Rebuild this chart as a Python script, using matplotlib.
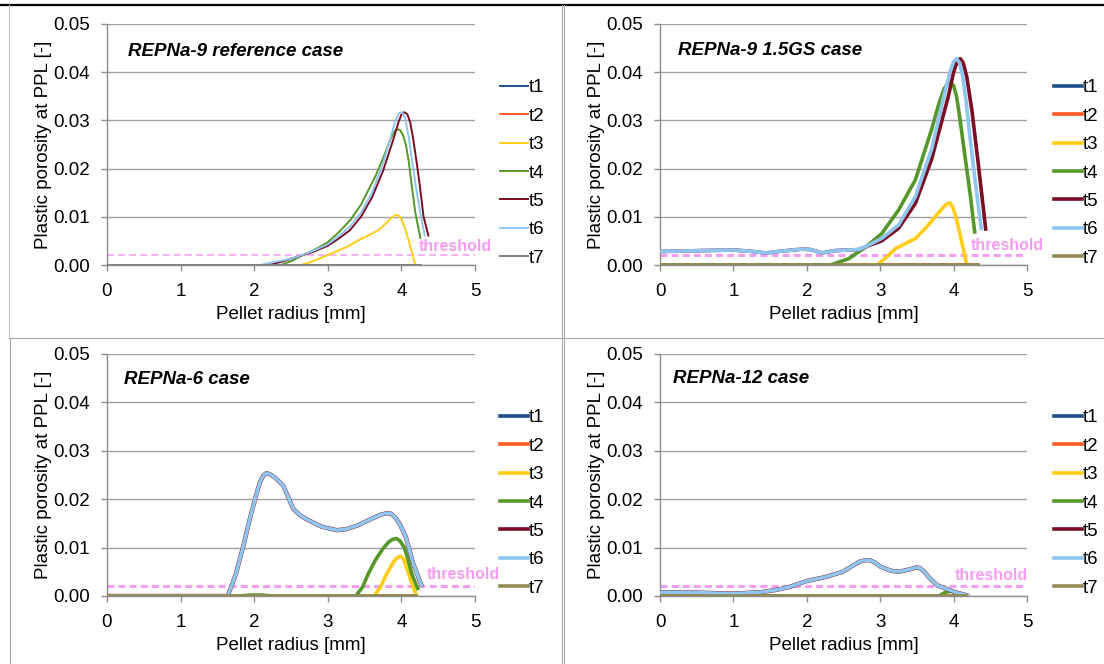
import matplotlib
matplotlib.use("Agg")
import matplotlib.pyplot as plt
from matplotlib.lines import Line2D

plt.rcParams['font.family'] = ['Liberation Sans', 'DejaVu Sans']
plt.rcParams['lines.scale_dashes'] = False

# ---------------- data ----------------
series_names = ["t1", "t2", "t3", "t4", "t5", "t6", "t7"]
x_ticks = [0, 1, 2, 3, 4, 5]
y_ticks = [0.00, 0.01, 0.02, 0.03, 0.04, 0.05]
threshold = 0.002
titles = ["REPNa-9 reference case", "REPNa-9 1.5GS case", "REPNa-6 case", "REPNa-12 case"]

# REPNa-9 reference case
ref_zero_x = [0, 4.28]
ref_zero_y = [0, 0]
ref_t3_x = [0, 2.63, 2.75, 2.90, 3.08, 3.25, 3.44, 3.60, 3.71, 3.80, 3.86, 3.91, 3.95, 3.99, 4.04, 4.10, 4.19]
ref_t3_y = [0, 0, 0.0005, 0.00145, 0.0026, 0.0037, 0.0053, 0.0065, 0.0075, 0.0088, 0.0097, 0.0103, 0.0104, 0.0098, 0.0080, 0.0050, 0.0]
ref_t4_x = [0, 2.36, 2.5, 2.63, 2.8, 2.99, 3.15, 3.31, 3.45, 3.53, 3.65, 3.76, 3.85, 3.90, 3.94, 3.98, 4.02, 4.06, 4.10, 4.14, 4.19, 4.26]
ref_t4_y = [0, 0, 0.0008, 0.0018, 0.003, 0.0046, 0.0068, 0.0094, 0.0125, 0.0149, 0.0185, 0.0225, 0.0260, 0.0276, 0.0282, 0.0280, 0.0270, 0.0250, 0.0215, 0.0165, 0.0108, 0.0054]
ref_t5_x = [0, 2.2, 2.4, 2.6, 2.8, 3.0, 3.15, 3.3, 3.45, 3.6, 3.75, 3.9, 3.96, 4.00, 4.04, 4.08, 4.12, 4.16, 4.21, 4.25, 4.30, 4.37]
ref_t5_y = [0, 0, 0.0008, 0.0018, 0.0027, 0.0040, 0.0055, 0.0072, 0.0100, 0.0140, 0.0195, 0.0265, 0.0296, 0.0312, 0.0317, 0.0313, 0.0296, 0.0262, 0.0210, 0.0165, 0.0101, 0.0059]
ref_t6_x = [0, 2.08, 2.3, 2.5, 2.6, 2.8, 3.0, 3.15, 3.3, 3.45, 3.6, 3.75, 3.86, 3.92, 3.97, 4.01, 4.05, 4.10, 4.15, 4.20, 4.26, 4.32]
ref_t6_y = [0, 0, 0.0007, 0.0013, 0.0018, 0.0029, 0.0043, 0.0060, 0.0080, 0.0108, 0.0150, 0.0210, 0.0268, 0.0300, 0.0316, 0.0317, 0.0305, 0.0265, 0.0210, 0.0160, 0.0105, 0.0059]

# REPNa-9 1.5GS case
gs_zero_x = [0, 4.36]
gs_zero_y = [0, 0]
gs_t3_x = [0, 2.96, 3.10, 3.21, 3.35, 3.48, 3.62, 3.75, 3.85, 3.91, 3.95, 3.99, 4.04, 4.10, 4.18]
gs_t3_y = [0, 0, 0.0018, 0.0034, 0.0045, 0.0055, 0.0077, 0.0100, 0.0118, 0.0127, 0.0129, 0.0120, 0.0095, 0.0055, 0]
gs_t4_x = [0, 2.32, 2.57, 2.80, 3.02, 3.25, 3.48, 3.70, 3.80, 3.87, 3.92, 3.96, 4.00, 4.04, 4.08, 4.12, 4.16, 4.23, 4.29]
gs_t4_y = [0, 0, 0.0013, 0.0037, 0.0065, 0.0114, 0.0177, 0.0281, 0.0335, 0.0365, 0.0377, 0.0379, 0.0372, 0.0350, 0.0310, 0.0265, 0.0220, 0.0142, 0.0065]
gs_t5_x = [0, 0.3, 0.6, 1.0, 1.2, 1.44, 1.67, 1.94, 2.05, 2.21, 2.39, 2.55, 2.71, 2.84, 3.02, 3.25, 3.48, 3.70, 3.93, 4.00, 4.05, 4.09, 4.13, 4.18, 4.25, 4.34, 4.44]
gs_t5_y = [0.0028, 0.0029, 0.0030, 0.0031, 0.0029, 0.0025, 0.0029, 0.0033, 0.0032, 0.0025, 0.0030, 0.0031, 0.0032, 0.0040, 0.0050, 0.0076, 0.0128, 0.0219, 0.0351, 0.0400, 0.0423, 0.0428, 0.0420, 0.0390, 0.0320, 0.0205, 0.0071]
gs_t6_x = [0, 0.3, 0.6, 1.0, 1.2, 1.44, 1.67, 1.94, 2.05, 2.21, 2.39, 2.55, 2.71, 2.84, 3.02, 3.25, 3.48, 3.70, 3.88, 3.95, 4.00, 4.04, 4.08, 4.12, 4.17, 4.22, 4.27, 4.33, 4.38]
gs_t6_y = [0.0028, 0.0029, 0.0030, 0.0031, 0.0029, 0.0025, 0.0029, 0.0033, 0.0032, 0.0025, 0.0030, 0.0031, 0.0032, 0.0041, 0.0055, 0.0083, 0.0142, 0.0240, 0.0358, 0.0400, 0.0422, 0.0428, 0.0420, 0.0395, 0.0340, 0.0270, 0.0205, 0.0130, 0.0072]

# REPNa-6 case
r6_zero_x = [0, 4.22]
r6_zero_y = [0, 0]
r6_t3_x = [0, 3.63, 3.72, 3.80, 3.90, 3.95, 3.99, 4.03, 4.09, 4.15, 4.21]
r6_t3_y = [0, 0, 0.0020, 0.0046, 0.0072, 0.0080, 0.0082, 0.0076, 0.0050, 0.0022, 0]
r6_t4_x = [0, 1.8, 1.95, 2.1, 2.25, 3.38, 3.47, 3.55, 3.65, 3.75, 3.83, 3.88, 3.93, 3.98, 4.04, 4.09, 4.14, 4.23]
r6_t4_y = [0, 0, 0.0002, 0.0002, 0, 0, 0.0018, 0.0046, 0.0075, 0.0098, 0.0112, 0.0117, 0.0119, 0.0114, 0.0100, 0.0075, 0.0046, 0.0012]
r6_t6_x = [0, 1.64, 1.75, 1.85, 1.95, 2.02, 2.08, 2.13, 2.17, 2.22, 2.28, 2.39, 2.46, 2.53, 2.63, 2.73, 2.92, 3.12, 3.25, 3.41, 3.60, 3.72, 3.80, 3.86, 3.92, 3.98, 4.06, 4.16, 4.28]
r6_t6_y = [0, 0, 0.0045, 0.0102, 0.0165, 0.0205, 0.0236, 0.0250, 0.0254, 0.0251, 0.0245, 0.0229, 0.0205, 0.0180, 0.0166, 0.0157, 0.0143, 0.0136, 0.0138, 0.0146, 0.0160, 0.0168, 0.0171, 0.0170, 0.0162, 0.0148, 0.0122, 0.0067, 0.0019]

# REPNa-12 case
r12_zero_x = [0, 4.20]
r12_zero_y = [0, 0]
r12_t4_x = [0, 3.80, 3.88, 3.95, 4.02, 4.10]
r12_t4_y = [0, 0, 0.0007, 0.0010, 0.0007, 0]
r12_t6_x = [0, 0.5, 1.0, 1.38, 1.6, 1.77, 2.0, 2.25, 2.49, 2.62, 2.72, 2.80, 2.86, 2.93, 3.01, 3.15, 3.25, 3.40, 3.49, 3.54, 3.60, 3.68, 3.78, 3.90, 4.02, 4.21]
r12_t6_y = [0.0008, 0.0007, 0.0005, 0.0008, 0.0013, 0.0019, 0.0031, 0.0039, 0.0050, 0.0062, 0.0071, 0.0074, 0.0074, 0.0069, 0.0060, 0.0052, 0.0050, 0.0055, 0.0059, 0.0058, 0.0050, 0.0036, 0.0022, 0.0015, 0.0008, 0.0]

panels = [
    {"t1": (ref_zero_x, ref_zero_y), "t2": (ref_zero_x, ref_zero_y), "t3": (ref_t3_x, ref_t3_y),
     "t4": (ref_t4_x, ref_t4_y), "t5": (ref_t5_x, ref_t5_y), "t6": (ref_t6_x, ref_t6_y), "t7": (ref_zero_x, ref_zero_y)},
    {"t1": (gs_zero_x, gs_zero_y), "t2": (gs_zero_x, gs_zero_y), "t3": (gs_t3_x, gs_t3_y),
     "t4": (gs_t4_x, gs_t4_y), "t5": (gs_t5_x, gs_t5_y), "t6": (gs_t6_x, gs_t6_y), "t7": (gs_zero_x, gs_zero_y)},
    {"t1": (r6_zero_x, r6_zero_y), "t2": (r6_zero_x, r6_zero_y), "t3": (r6_t3_x, r6_t3_y),
     "t4": (r6_t4_x, r6_t4_y), "t5": (r6_t6_x, r6_t6_y), "t6": (r6_t6_x, r6_t6_y), "t7": (r6_zero_x, r6_zero_y)},
    {"t1": (r12_zero_x, r12_zero_y), "t2": (r12_zero_x, r12_zero_y), "t3": (r12_zero_x, r12_zero_y),
     "t4": (r12_t4_x, r12_t4_y), "t5": (r12_t6_x, r12_t6_y), "t6": (r12_t6_x, r12_t6_y), "t7": (r12_zero_x, r12_zero_y)},
]

# ---------------- style ----------------
colors = {"t1": "#1F4E8C", "t2": "#FF5A24", "t3": "#FFCC1A", "t4": "#55972A",
          "t5": "#7A0E22", "t6": "#8EC6F0", "t7": "#948A54"}
W, H = 1104, 664
# axes boxes in pixels: left, top, right, bottom
boxes = [(107, 24, 475, 265), (660, 24, 1027, 265), (107, 354, 475, 596), (660, 354, 1027, 596)]
legend_pos = [(500, 173), (1054, 173), (500, 503), (1054, 503)]
title_pos = [(0.29, 0.0443), (0.24, 0.0445), (0.23, 0.0447), (0.18, 0.0449)]
thr_pos = [(4.23, 0.0038), (4.23, 0.0040), (4.35, 0.0044), (4.02, 0.0042)]
lw_main = [1.4, 2.6, 2.6, 2.6]

fig = plt.figure(figsize=(W / 100, H / 100), dpi=100)
fig.patch.set_facecolor("white")

def fx(px):
    return px / W

def fy(py):
    return 1 - py / H

for i, (box, data) in enumerate(zip(boxes, panels)):
    l, t, r, b = box
    ax = fig.add_axes([fx(l), fy(b), (r - l) / W, (b - t) / H])
    ax.set_xlim(0, 5)
    ax.set_ylim(0, 0.05)
    ax.set_xticks(x_ticks)
    ax.set_yticks(y_ticks)
    ax.set_yticklabels([f"{v:.2f}" for v in y_ticks])
    ax.yaxis.grid(True, color="#A0A0A0", linewidth=1.0)
    ax.set_axisbelow(True)
    for s in ["top", "right"]:
        ax.spines[s].set_visible(False)
    for s in ["left", "bottom"]:
        ax.spines[s].set_color("#8C8C8C")
        ax.spines[s].set_linewidth(1.0)
    ax.tick_params(axis="both", direction="out", length=4, width=1.0, color="#8C8C8C",
                   labelsize=13.5, labelcolor="black")
    ax.tick_params(axis="x", pad=9)
    ax.tick_params(axis="y", pad=8)
    ax.set_xlabel("Pellet radius [mm]", fontsize=13.5, labelpad=4)
    ax.set_ylabel("Plastic porosity at PPL [-]", fontsize=13.5, labelpad=1)

    lw = lw_main[i]
    # threshold line
    ax.plot([0, 5], [threshold, threshold], color="#F59DF0", linewidth=lw * 0.8 if i == 0 else 2.2,
            dashes=(5, 3), zorder=2)
    handles = []
    for name in series_names:
        xs, ys = data[name]
        c = colors[name]
        if i == 0 and name == "t7":
            c = "#7F7F7F"
        w = lw
        if i in (2, 3) and name == "t5":
            w = lw + 0.5
        ax.plot(xs, ys, color=c, linewidth=w, solid_capstyle="butt",
                solid_joinstyle="round", zorder=3)
        handles.append(Line2D([0], [0], color=c, linewidth=lw))
    ax.text(title_pos[i][0], title_pos[i][1], titles[i], fontsize=13.5, fontweight="bold",
            style="italic", va="center", ha="left")
    ax.text(thr_pos[i][0], thr_pos[i][1], "threshold", fontsize=11.5, fontweight="bold",
            color="#F59DF0", va="center", ha="left", clip_on=False)
    lx, ly = legend_pos[i]
    ax.legend(handles, series_names, loc="center left", bbox_to_anchor=(fx(lx), fy(ly)),
              bbox_transform=fig.transFigure, frameon=False, borderpad=0, borderaxespad=0,
              handlelength=1.5, handletextpad=0.05, labelspacing=0.6, fontsize=13.5)

# panel frame lines
def hline(y, x0, x1, color, lw):
    fig.add_artist(Line2D([fx(x0), fx(x1)], [fy(y), fy(y)], color=color, linewidth=lw,
                          transform=fig.transFigure))

def vline(x, y0, y1, color, lw):
    fig.add_artist(Line2D([fx(x), fx(x)], [fy(y0), fy(y1)], color=color, linewidth=lw,
                          transform=fig.transFigure))

hline(5, 0, W, "black", 1.6)
vline(9, 5, 338, "#C8C8C8", 0.8)
vline(10, 338, H, "#A8A8A8", 0.8)
hline(338, 9, W, "#A8A8A8", 0.8)
vline(561.5, 5, H, "#A8A8A8", 0.8)
vline(563.5, 5, H, "#A8A8A8", 0.8)

fig.savefig("out.png", dpi=100, facecolor="white")
